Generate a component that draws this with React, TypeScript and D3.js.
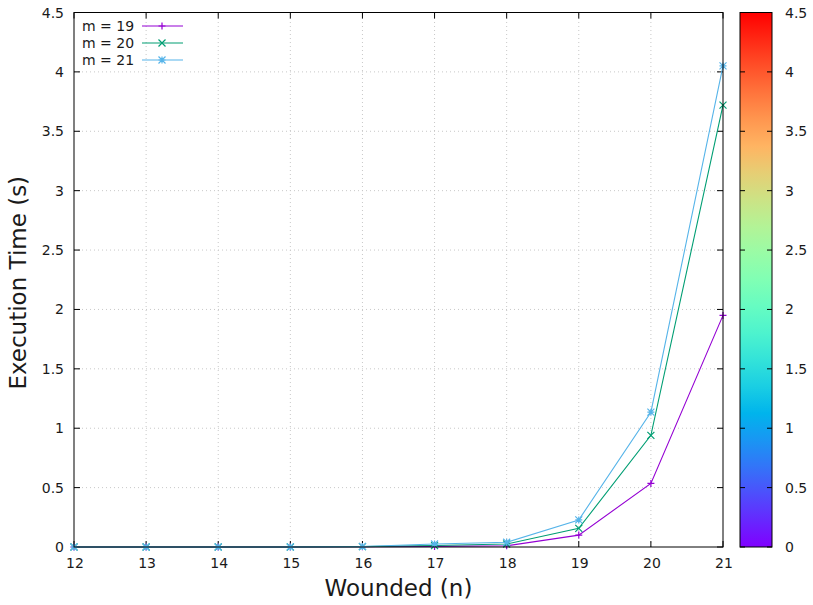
import React from 'react';
import * as d3 from 'd3';

const wounded = [12, 13, 14, 15, 16, 17, 18, 19, 20, 21];
const m19 = [0, 0, 0, 0, 0.002, 0.005, 0.01, 0.1, 0.535, 1.95];
const m20 = [0, 0, 0, 0, 0.003, 0.012, 0.025, 0.157, 0.94, 3.72];
const m21 = [0, 0, 0, 0, 0.004, 0.025, 0.04, 0.228, 1.135, 4.05];
const yTicks = [0, 0.5, 1, 1.5, 2, 2.5, 3, 3.5, 4, 4.5];
const cbTicks = [0, 0.5, 1, 1.5, 2, 2.5, 3, 3.5, 4, 4.5];

const series = [
  { name: 'm = 19', values: m19, color: '#9400d3', marker: 'plus' },
  { name: 'm = 20', values: m20, color: '#009e73', marker: 'cross' },
  { name: 'm = 21', values: m21, color: '#56b4e9', marker: 'star' },
];

const margin = { left: 74, right: 90, top: 12.5, bottom: 58 };
const W = 813;
const H = 605;
const font = '"DejaVu Sans", sans-serif';
const txt = '#1a1a1a';

// gnuplot rgbformulae 33,13,10
function rainbow(t: number) {
  const r = Math.min(1, Math.abs(2 * t - 0.5));
  const g = Math.max(0, Math.sin(Math.PI * t));
  const b = Math.max(0, Math.cos((Math.PI * t) / 2));
  return d3.rgb(r * 255, g * 255, b * 255).formatHex();
}

function Marker({ kind, x, y, color }: { kind: string; x: number; y: number; color: string }) {
  const s = 3.5;
  const p: string[] = [];
  if (kind === 'plus' || kind === 'star') {
    p.push(`M${x - s},${y}H${x + s}M${x},${y - s}V${y + s}`);
  }
  if (kind === 'cross' || kind === 'star') {
    p.push(`M${x - s},${y - s}L${x + s},${y + s}M${x - s},${y + s}L${x + s},${y - s}`);
  }
  return <path d={p.join('')} stroke={color} strokeWidth={1.2} fill="none" />;
}

export default function App() {
  const x = d3.scaleLinear().domain([12, 21]).range([margin.left, W - margin.right]);
  const y = d3.scaleLinear().domain([0, 4.5]).range([H - margin.bottom, margin.top]);
  const x0 = x.range()[0];
  const x1 = x.range()[1];
  const y0 = y.range()[0];
  const y1 = y.range()[1];

  const cbX = 740;
  const cbW = 32;
  const cb = d3.scaleLinear().domain([0, 4.5]).range([y0, y1]);
  const stops = d3.range(0, 1.0001, 0.05);

  const line = d3
    .line<number>()
    .x((_, i) => x(wounded[i]))
    .y((d) => y(d));

  return (
    <svg width={W} height={H} style={{ position: 'absolute', left: 0, top: 0, background: '#fff' }} fontFamily={font}>
      <defs>
        <linearGradient id="cbgrad" x1="0" y1="1" x2="0" y2="0">
          {stops.map((t) => (
            <stop key={t} offset={t} stopColor={rainbow(t)} />
          ))}
        </linearGradient>
      </defs>
      {/* grid */}
      {wounded.slice(1, -1).map((t) => (
        <line key={'gx' + t} x1={x(t)} x2={x(t)} y1={y0} y2={y1} stroke="#c8c8c8" strokeDasharray="1,3" />
      ))}
      {yTicks.slice(1, -1).map((t) => (
        <line key={'gy' + t} x1={x0} x2={x1} y1={y(t)} y2={y(t)} stroke="#c8c8c8" strokeDasharray="1,3" />
      ))}
      {/* ticks */}
      {wounded.map((t) => (
        <g key={'tx' + t}>
          <line x1={x(t)} x2={x(t)} y1={y0} y2={y0 - 6} stroke="#000" />
          <line x1={x(t)} x2={x(t)} y1={y1} y2={y1 + 6} stroke="#000" />
          <text x={x(t) + 1} y={y0 + 21} textAnchor="middle" fontSize={14} fill={txt}>
            {t}
          </text>
        </g>
      ))}
      {yTicks.map((t) => (
        <g key={'ty' + t}>
          <line x1={x0} x2={x0 + 6} y1={y(t)} y2={y(t)} stroke="#000" />
          <line x1={x1} x2={x1 - 6} y1={y(t)} y2={y(t)} stroke="#000" />
          <text x={x0 - 10} y={y(t) + 5} textAnchor="end" fontSize={14} fill={txt}>
            {t}
          </text>
        </g>
      ))}
      {/* series */}
      {series.map((s) => (
        <g key={s.name}>
          <path d={line(s.values) || ''} fill="none" stroke={s.color} strokeWidth={1.1} />
          {s.values.map((v, i) => (
            <Marker key={i} kind={s.marker} x={x(wounded[i])} y={y(v)} color={s.color} />
          ))}
        </g>
      ))}
      {/* frame */}
      <rect x={x0} y={y1} width={x1 - x0} height={y0 - y1} fill="none" stroke="#000" strokeWidth={1} />
      {/* legend */}
      {series.map((s, i) => {
        const ly = 26 + i * 17;
        return (
          <g key={'lg' + s.name}>
            <text x={82} y={ly + 5} fontSize={14} fill={txt}>
              {s.name}
            </text>
            <line x1={142} x2={183} y1={ly} y2={ly} stroke={s.color} strokeWidth={1.1} />
            <Marker kind={s.marker} x={162} y={ly} color={s.color} />
          </g>
        );
      })}
      {/* colorbar */}
      <rect x={cbX} y={y1} width={cbW} height={y0 - y1} fill="url(#cbgrad)" stroke="#000" />
      {cbTicks.map((t) => (
        <g key={'cb' + t}>
          <line x1={cbX} x2={cbX + 5} y1={cb(t)} y2={cb(t)} stroke="#000" />
          <line x1={cbX + cbW} x2={cbX + cbW - 5} y1={cb(t)} y2={cb(t)} stroke="#000" />
          <text x={785} y={cb(t) + 5} fontSize={14} fill={txt}>
            {t}
          </text>
        </g>
      ))}
      {/* axis labels */}
      <text x={(x0 + x1) / 2} y={596} textAnchor="middle" fontSize={23} fill={txt}>
        Wounded (n)
      </text>
      <text transform={`translate(26,${(y0 + y1) / 2 + 3}) rotate(-90)`} textAnchor="middle" fontSize={23} fill={txt}>
        Execution Time (s)
      </text>
    </svg>
  );
}
